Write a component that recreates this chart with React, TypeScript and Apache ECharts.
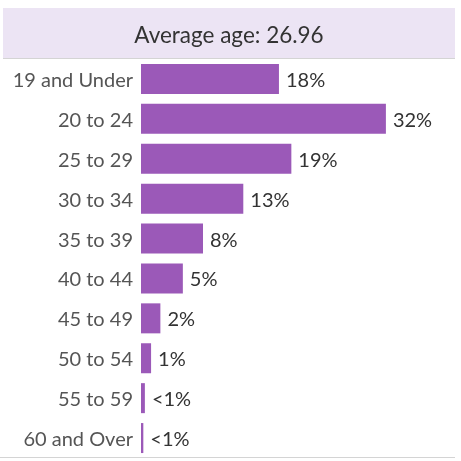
import React, { useEffect, useRef } from "react";
import * as echarts from "echarts";

const categories = ["19 and Under", "20 to 24", "25 to 29", "30 to 34", "35 to 39", "40 to 44", "45 to 49", "50 to 54", "55 to 59", "60 and Over"];
const shares = [17.8, 31.6, 19.4, 13.2, 8.0, 5.4, 2.5, 1.3, 0.5, 0.3];
const shareLabels = ["18%", "32%", "19%", "13%", "8%", "5%", "2%", "1%", "<1%", "<1%"];
const headerText = "Average age: 26.96";

const FONT = "Lato, 'Noto Sans', sans-serif";

export default function App() {
  const ref = useRef<HTMLDivElement>(null);
  useEffect(() => {
    if (!ref.current) return;
    const chart = echarts.init(ref.current, null, { renderer: "svg" });
    chart.setOption({
      animation: false,
      graphic: [
        { type: "rect", shape: { x: 3, y: 8, width: 452, height: 50 }, style: { fill: "#ece4f4" }, z: 0 },
        { type: "line", shape: { x1: 3, y1: 58.5, x2: 455, y2: 58.5 }, style: { stroke: "#d4d4d4", lineWidth: 1 } },
        { type: "line", shape: { x1: 0, y1: 457.5, x2: 455, y2: 457.5 }, style: { stroke: "#d4d4d4", lineWidth: 1 } },
        {
          type: "text",
          x: 229,
          y: 34,
          style: { text: headerText, fill: "#333333", font: `22.5px ${FONT}`, textAlign: "center", textVerticalAlign: "middle" },
        },
      ],
      grid: { left: 141, right: 10, top: 59, bottom: 3, containLabel: false },
      xAxis: { type: "value", min: 0, max: 40, show: false },
      yAxis: {
        type: "category",
        data: categories,
        inverse: true,
        axisLine: { show: false },
        axisTick: { show: false },
        axisLabel: { color: "#555555", fontSize: 20, fontFamily: FONT, margin: 8 },
      },
      series: [
        {
          type: "bar",
          data: shares,
          barWidth: 30,
          itemStyle: { color: "#9b59b8" },
          label: {
            show: true,
            position: "right",
            distance: 7,
            color: "#333333",
            fontSize: 20,
            fontFamily: FONT,
            formatter: (p: any) => shareLabels[p.dataIndex],
          },
        },
      ],
    });
    return () => chart.dispose();
  }, []);
  return <div ref={ref} style={{ position: "fixed", left: 0, top: 0, width: 461, height: 461 }} />;
}
